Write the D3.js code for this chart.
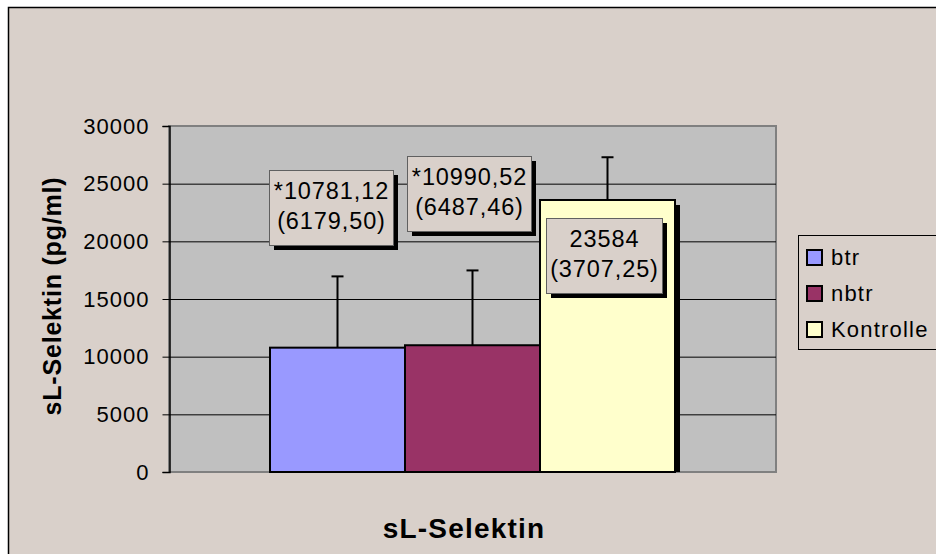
<!DOCTYPE html>
<html>
<head>
<meta charset="utf-8">
<script src="https://cdn.jsdelivr.net/npm/d3@7"></script>
<style>
	body { margin: 0; background: #fff; }
	svg { display: block; font-family: "Liberation Sans", Arial, sans-serif; }
	svg text { fill: #000; }
</style>
</head>
<body>
<svg id="chart" width="936" height="554"></svg>
<script>
var groups = ["btr", "nbtr", "Kontrolle"];
var means = [10781.12, 10990.52, 23584];
var sds = [6179.50, 6487.46, 3707.25];
var labels = [["*10781,12", "(6179,50)"], ["*10990,52", "(6487,46)"], ["23584", "(3707,25)"]];
var colors = ["#9999ff", "#993366", "#ffffcc"];
var yTicks = [0, 5000, 10000, 15000, 20000, 25000, 30000];

var svg = d3.select("#chart");

// Hintergrund / Rahmen
svg.append("rect").attr("x", 0).attr("y", 0).attr("width", 936).attr("height", 554).attr("fill", "#fff");
svg.append("rect")
	.attr("x", 8.5).attr("y", 7.5).attr("width", 940).attr("height", 560)
	.attr("fill", "#d9d0ca").attr("stroke", "#000").attr("stroke-width", 1.5);

var plot = {left: 169, top: 126, right: 776, bottom: 472};

var y = d3.scaleLinear().domain([0, 30000]).range([plot.bottom, plot.top]);
var x = d3.scaleBand().domain(groups).range([270, 675]).padding(0);

// Plotfläche
svg.append("rect")
	.attr("x", plot.left).attr("y", plot.top)
	.attr("width", plot.right - plot.left).attr("height", plot.bottom - plot.top)
	.attr("fill", "#c0c0c0").attr("stroke", "#808080").attr("stroke-width", 2);

// Gitterlinien
svg.append("g").selectAll("line")
	.data(yTicks.filter(function(d) { return d > 0 && d < 30000; }))
	.enter().append("line")
	.attr("x1", plot.left).attr("x2", plot.right)
	.attr("y1", function(d) { return y(d) + 0.5; })
	.attr("y2", function(d) { return y(d) + 0.5; })
	.attr("stroke", "#000").attr("stroke-width", 1);

// Y-Achse
var yAxis = d3.axisLeft(y).tickValues(yTicks).tickSize(7).tickPadding(13).tickFormat(d3.format("d"));
var ax = svg.append("g")
	.attr("transform", "translate(" + (plot.left + 0.5) + ",0)")
	.call(yAxis)
	.attr("font-size", null).attr("font-family", null);
ax.select(".domain").attr("stroke", "#000").attr("stroke-width", 1.5);
ax.selectAll(".tick line").attr("stroke", "#000");
ax.selectAll("text").style("font-size", "22px").style("letter-spacing", "1px").attr("fill", "#000");

// Schatten der Balken
svg.append("g").selectAll("rect")
	.data(groups)
	.enter().append("rect")
	.attr("x", function(d) { return x(d) + 5; })
	.attr("y", function(d, i) { return y(means[i]) + 5; })
	.attr("width", x.bandwidth())
	.attr("height", function(d, i) { return Math.max(0, y(0) - y(means[i]) - 5); })
	.attr("fill", "#000");

// Fehlerbalken
var err = svg.append("g").attr("stroke", "#000").attr("stroke-width", 2);
groups.forEach(function(g, i) {
	var cx = x(g) + x.bandwidth() / 2;
	err.append("line").attr("x1", cx).attr("x2", cx)
		.attr("y1", y(means[i])).attr("y2", y(means[i] + sds[i]));
	err.append("line").attr("x1", cx - 6).attr("x2", cx + 6)
		.attr("y1", y(means[i] + sds[i])).attr("y2", y(means[i] + sds[i]));
});

// Balken
svg.append("g").selectAll("rect")
	.data(groups)
	.enter().append("rect")
	.attr("x", function(d) { return x(d); })
	.attr("y", function(d, i) { return y(means[i]); })
	.attr("width", x.bandwidth())
	.attr("height", function(d, i) { return y(0) - y(means[i]); })
	.attr("fill", function(d, i) { return colors[i]; })
	.attr("stroke", "#000").attr("stroke-width", 2);

// Datenbeschriftungen
var boxes = [
	{x: 269, y: 170, w: 124, h: 75},
	{x: 407, y: 156, w: 124, h: 75},
	{x: 546, y: 218, w: 116, h: 75}
];
var lab = svg.append("g");
boxes.forEach(function(b, i) {
	lab.append("rect").attr("x", b.x + 5).attr("y", b.y + 5).attr("width", b.w).attr("height", b.h).attr("fill", "#000");
	lab.append("rect").attr("x", b.x + 0.5).attr("y", b.y + 0.5).attr("width", b.w).attr("height", b.h)
		.attr("fill", "#d9d0ca").attr("stroke", "#606060").attr("stroke-width", 1);
	[0, 1].forEach(function(k) {
		lab.append("text").attr("x", b.x + b.w / 2 + 0.5).attr("y", b.y + 29 + k * 30)
			.attr("text-anchor", "middle")
			.style("font-size", "23.5px").style("letter-spacing", "0.9px")
			.text(labels[i][k]);
	});
});

// Legende
var leg = svg.append("g").attr("transform", "translate(798,235)");
leg.append("rect").attr("x", 0.5).attr("y", 0.5).attr("width", 150).attr("height", 114)
	.attr("fill", "#d9d0ca").attr("stroke", "#000").attr("stroke-width", 1);
groups.forEach(function(g, i) {
	var yy = 22 + i * 36;
	leg.append("rect").attr("x", 9).attr("y", yy - 7).attr("width", 15).attr("height", 15)
		.attr("fill", colors[i]).attr("stroke", "#000").attr("stroke-width", 2);
	leg.append("text").attr("x", 33).attr("y", yy + 8)
		.style("font-size", "22px").style("letter-spacing", "1.2px").text(g);
});

// Achsentitel
svg.append("text")
	.attr("transform", "translate(61," + 296 + ") rotate(-90)")
	.attr("text-anchor", "middle")
	.style("font-size", "25px").style("letter-spacing", "0.8px").attr("font-weight", "bold")
	.text("sL-Selektin (pg/ml)");
svg.append("text")
	.attr("x", 464).attr("y", 538)
	.attr("text-anchor", "middle")
	.style("font-size", "28px").style("letter-spacing", "1.2px").attr("font-weight", "bold")
	.text("sL-Selektin");
</script>
</body>
</html>
